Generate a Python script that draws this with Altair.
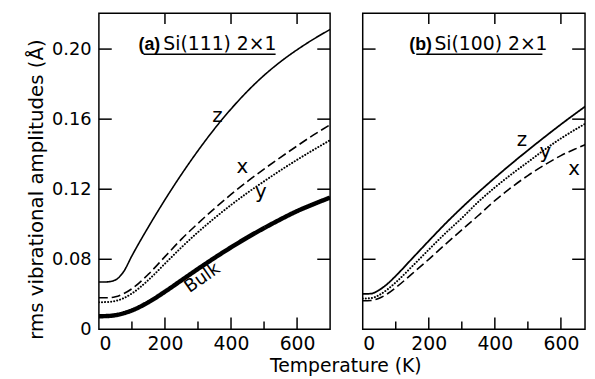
import altair as alt
import pandas as pd

# ---------------- data ----------------
temps = [0, 25, 50, 75, 100, 150, 200, 250, 300, 350, 400, 450, 500, 550, 600, 650, 700]

# panel (a) Si(111) 2x1
a_z = [0.0670, 0.0671, 0.0682, 0.0730, 0.0820, 0.0985, 0.1140, 0.1285, 0.1420,
       0.1545, 0.1658, 0.1760, 0.1850, 0.1928, 0.1996, 0.2057, 0.2112]
a_x = [0.0580, 0.0580, 0.0586, 0.0604, 0.0632, 0.0715, 0.0815, 0.0915, 0.1005,
       0.1090, 0.1170, 0.1245, 0.1315, 0.1382, 0.1447, 0.1510, 0.1568]
a_y = [0.0555, 0.0556, 0.0562, 0.0578, 0.0605, 0.0682, 0.0775, 0.0868, 0.0955,
       0.1035, 0.1110, 0.1180, 0.1245, 0.1308, 0.1368, 0.1425, 0.1480]
a_bulk = [0.0475, 0.0476, 0.0481, 0.0492, 0.0508, 0.0555, 0.0615, 0.0680, 0.0745,
          0.0808, 0.0868, 0.0925, 0.0978, 0.1028, 0.1075, 0.1115, 0.1152]

# panel (b) Si(100) 2x1
b_z = [0.0602, 0.0604, 0.0625, 0.0660, 0.0705, 0.0805, 0.0905, 0.1003, 0.1095,
       0.1182, 0.1265, 0.1345, 0.1422, 0.1497, 0.1570, 0.1640, 0.1708]
b_y = [0.0576, 0.0578, 0.0596, 0.0628, 0.0668, 0.0760, 0.0855, 0.0948, 0.1035,
       0.1128, 0.1210, 0.1285, 0.1355, 0.1425, 0.1490, 0.1548, 0.1602]
b_x = [0.0563, 0.0565, 0.0578, 0.0603, 0.0638, 0.0718, 0.0800, 0.0885, 0.0968,
       0.1050, 0.1135, 0.1210, 0.1278, 0.1338, 0.1392, 0.1435, 0.1475]

y_tick_labels = [0.04, 0.08, 0.12, 0.16, 0.20]
y_ticks = [0.08, 0.12, 0.16, 0.20]
x_major = [200, 400, 600]
x_minor = [100, 300, 500]
x_labels = [0, 200, 400, 600]

# curve labels: (text, T, value)
a_labels = [("z", 359, 0.1617), ("x", 434, 0.1326), ("y", 490, 0.1185)]
b_labels = [("z", 482, 0.1483), ("y", 553, 0.1410), ("x", 640, 0.1314)]
bulk_label = ("Bulk", 314, 0.0692)

# panel headings: (tag, tag_T, text, text_T, baseline value, underline T1, T2, underline value)
a_head = ("(a)", 120, "Si(111) 2×1", 195, 0.1993, 135, 535, 0.1971)
b_head = ("(b)", 141, "Si(100) 2×1", 217, 0.1993, 162, 544, 0.1971)

W, H = 234, 320
WB = 225
FONT = "DejaVu Sans"

xscale = alt.Scale(domain=[0, 700], nice=False, zero=False)
xscale_b = alt.Scale(domain=[0, 673], nice=False, zero=False)
yscale = alt.Scale(domain=[0.04, 0.2205], nice=False, zero=False)

left_xaxis = alt.Axis(values=x_labels, format="d", labelFontSize=19,
                      labelPadding=5, title=None)
left_yaxis = alt.Axis(
    values=y_tick_labels,
    labelExpr="datum.value < 0.05 ? '0' : format(datum.value, '.2f')",
    labelFontSize=18, labelPadding=8,
    title="rms vibrational amplitudes (Å)", titleFontSize=20,
    titleAngle=270, titleX=-63, titleY=178, titleAlign="center",
    titleBaseline="middle")
right_xaxis = alt.Axis(values=x_labels, format="d", labelFontSize=19,
                       labelPadding=5, title=None)


def make_panel(xsc, xaxis, yaxis, width):
    def X(f):
        return alt.X(f, scale=xsc, axis=xaxis)

    def Y(f):
        return alt.Y(f, scale=yscale, axis=yaxis)

    def line(vals, dash, sw, cap="butt"):
        df = pd.DataFrame({"T": temps, "v": vals})
        return alt.Chart(df).mark_line(
            color="black", strokeWidth=sw, strokeDash=dash, strokeCap=cap,
            interpolate="monotone", clip=True
        ).encode(x=X("T:Q"), y=Y("v:Q"))

    def ticks_layers():
        layers = []
        ydf = pd.DataFrame({"v": y_ticks})
        for x1, x2 in [(0, 13), (width - 13, width)]:
            layers.append(alt.Chart(ydf).mark_rule(color="black", strokeWidth=1.5).encode(
                y=Y("v:Q"), x=alt.value(x1), x2=alt.value(x2)))
        for vals, y1, y2 in [(x_major, H, H - 12), (x_minor, H, H - 8), (x_major, 0, 11)]:
            layers.append(alt.Chart(pd.DataFrame({"T": vals})).mark_rule(
                color="black", strokeWidth=1.5).encode(
                x=X("T:Q"), y=alt.value(y1), y2=alt.value(y2)))
        return layers

    def heading(h):
        tag, tag_t, txt, txt_t, base, u1, u2, uv = h
        tag_l = alt.Chart(pd.DataFrame({"T": [tag_t], "v": [base], "s": [tag]})).mark_text(
            font="Liberation Sans", fontSize=18, fontWeight="bold", align="left",
            baseline="alphabetic", color="black").encode(
            x=X("T:Q"), y=Y("v:Q"), text="s:N")
        txt_l = alt.Chart(pd.DataFrame({"T": [txt_t], "v": [base], "s": [txt]})).mark_text(
            font=FONT, fontSize=19, align="left", baseline="alphabetic",
            color="black").encode(x=X("T:Q"), y=Y("v:Q"), text="s:N")
        und = alt.Chart(pd.DataFrame({"T": [u1], "T2": [u2], "v": [uv]})).mark_rule(
            color="black", strokeWidth=1.5).encode(x=X("T:Q"), x2="T2:Q", y=Y("v:Q"))
        return [tag_l, txt_l, und]

    def curve_labels(lbls, size=20, angle=0):
        df = pd.DataFrame({"s": [l[0] for l in lbls], "T": [l[1] for l in lbls],
                           "v": [l[2] for l in lbls]})
        return alt.Chart(df).mark_text(font=FONT, fontSize=size, align="center",
                                       baseline="middle", color="black",
                                       angle=angle).encode(
            x=X("T:Q"), y=Y("v:Q"), text="s:N")

    return line, ticks_layers, heading, curve_labels


DASH = [9, 4]
DOT = [0.1, 3]

line, ticks_layers, heading, curve_labels = make_panel(xscale, left_xaxis, left_yaxis, W)
left = alt.layer(
    *ticks_layers(),
    line(a_z, [1, 0], 1.6),
    line(a_x, DASH, 1.6),
    line(a_y, DOT, 2.0, "round"),
    line(a_bulk, [1, 0], 4.5),
    curve_labels(a_labels),
    curve_labels([bulk_label], size=18, angle=325),
    *heading(a_head),
).properties(width=W, height=H)

line, ticks_layers, heading, curve_labels = make_panel(xscale_b, right_xaxis, None, WB)
right = alt.layer(
    *ticks_layers(),
    line(b_z, [1, 0], 1.8),
    line(b_x, DASH, 1.6),
    line(b_y, DOT, 2.0, "round"),
    curve_labels(b_labels),
    *heading(b_head),
).properties(width=WB, height=H)

chart = alt.hconcat(left, right, spacing=29).properties(
    padding={"left": 18, "top": 1, "right": 0, "bottom": 0},
    title=alt.TitleParams("Temperature (K)", orient="bottom", anchor="middle",
                          dx=40, offset=3, fontSize=19, font=FONT,
                          fontWeight="normal", color="black"),
).configure_view(
    stroke="black", strokeWidth=1.5
).configure_axis(
    grid=False, domain=False, ticks=False, labelColor="black", titleColor="black",
    labelFont=FONT, titleFont=FONT, titleFontWeight="normal"
)

chart.save("out.html", embed_options={"renderer": "svg", "actions": False})
